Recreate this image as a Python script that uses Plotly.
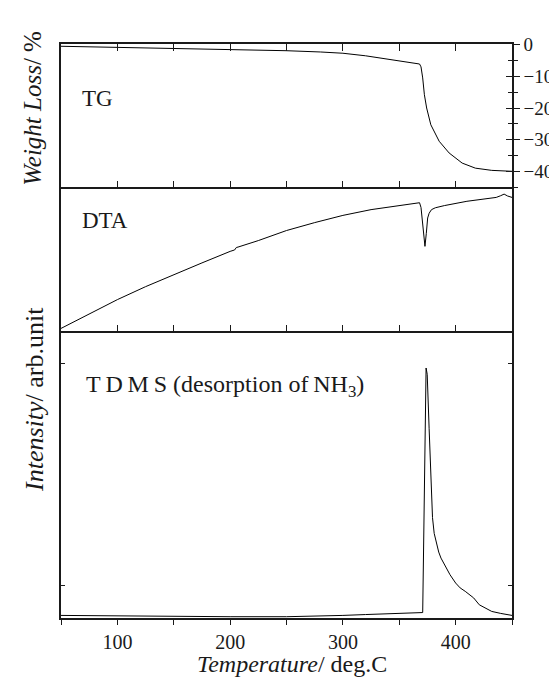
import plotly.graph_objects as go

# ---------------- data ----------------
temp_tg = [50, 100, 150, 200, 250, 280, 300, 320, 340, 355, 368, 369.3, 370.8, 372.3, 374.3, 378, 385.4, 394.2, 405.8, 417.5, 432, 450]
tg = [-0.5, -0.8, -1.1, -1.4, -1.9, -2.3, -2.7, -3.5, -4.5, -5.3, -6.1, -7.0, -10.5, -15.8, -20.0, -25.3, -30.5, -34.2, -37.4, -39.0, -39.7, -40.0]

temp_dta = [50, 75, 100, 125, 150, 175, 200, 204, 205.5, 207, 225, 250, 275, 300, 325, 350, 368, 369.3, 370.2, 371.5, 372.8,
            374, 375.2, 376.5, 378.6, 382, 390, 410, 425, 436, 440, 443, 446, 450]
dta = [2, 12, 22, 31, 39.5, 47.5, 55.5, 56.5, 58.2, 58.5, 63, 70, 75.5, 80.5, 84.5, 87.5, 89.3, 86, 78.7, 68, 59,
       68, 78.7, 82, 84.5, 85.8, 87.3, 90.3, 92, 93, 94.2, 95.3, 94, 93]

temp_ms = [50, 100, 150, 200, 250, 280, 300, 320, 345, 360, 370.8, 373.8, 374.8, 376.5, 378, 379.5, 381, 383, 385, 387, 391, 395,
           400, 404, 408.5, 416, 421, 429, 432, 440, 450]
ms = [0.9, 0.7, 0.5, 0.45, 0.45, 0.6, 0.9, 1.2, 1.5, 1.7, 1.9, 87.2, 85, 66, 47, 35, 29.5, 25.6, 23, 20.9, 17.8, 15.1,
      12.2, 10.5, 9.3, 7.0, 4.6, 2.9, 2.3, 1.6, 0.9]

x_major = [100, 200, 300, 400]
x_minor = [50, 150, 250, 350, 450]
x_all = [50, 100, 150, 200, 250, 300, 350, 400, 450]
tg_ticks = [0, -10, -20, -30, -40]
tg_labels = ["0", "\u221210", "\u221220", "\u221230", "\u221240"]
ms_ticks = [11.2, 88.9]

FONT = "Liberation Serif"
INK = "#1a1a1a"

fig = go.Figure()
line = dict(color="black", width=1)
fig.add_trace(go.Scatter(x=temp_tg, y=tg, mode="lines", line=line, xaxis="x", yaxis="y", showlegend=False))
fig.add_trace(go.Scatter(x=[None], y=[None], mode="lines", xaxis="x", yaxis="y4", showlegend=False))
fig.add_trace(go.Scatter(x=temp_dta, y=dta, mode="lines", line=line, xaxis="x2", yaxis="y2", showlegend=False))
fig.add_trace(go.Scatter(x=temp_ms, y=ms, mode="lines", line=line, xaxis="x3", yaxis="y3", showlegend=False))

axline = dict(showline=True, linecolor=INK, linewidth=1.5, showgrid=False, zeroline=False)

d_ms = [0, 0.4995]
d_dta = [0.4995, 0.7503]
d_tg = [0.7503, 1]
tg_range = [-45.06, 0.22]

fig.update_layout(
    width=557, height=677,
    margin=dict(l=53, r=46, t=36, b=67),
    paper_bgcolor="white", plot_bgcolor="white",
    font=dict(family=FONT, color=INK, size=20),
    xaxis=dict(domain=[0, 1], range=[50, 450], anchor="y", mirror="ticks", ticks="inside", ticklen=7,
               tickwidth=1.2, tickcolor=INK, tickvals=x_all, showticklabels=False, **axline),
    xaxis2=dict(domain=[0, 1], range=[50, 450], anchor="y2", mirror=False, ticks="inside", ticklen=7,
                tickwidth=1.2, tickcolor=INK, tickvals=x_all, showticklabels=False, **axline),
    xaxis3=dict(domain=[0, 1], range=[50, 450], anchor="y3", mirror=False, ticks="outside", ticklen=5,
                tickwidth=1.2, tickcolor=INK, tickvals=x_major,
                minor=dict(tickvals=x_minor, ticks="outside", ticklen=5, tickwidth=1.2, tickcolor=INK),
                tickfont=dict(family=FONT, size=20, color=INK), **axline),
    yaxis=dict(domain=d_tg, range=tg_range, anchor="x", side="right", mirror=True, ticks="outside", ticklen=6,
               tickwidth=1.2, tickcolor=INK, tickvals=tg_ticks, ticktext=tg_labels,
               tickfont=dict(family=FONT, size=19, color=INK),
               minor=dict(dtick=5, tick0=0, ticks="outside", ticklen=4, tickwidth=1.2, tickcolor=INK),
               **axline),
    yaxis4=dict(domain=d_tg, range=tg_range, anchor="x", overlaying="y", side="right", ticks="inside",
                ticklen=6, tickwidth=1.2, tickcolor=INK, tickvals=tg_ticks, showticklabels=False,
                minor=dict(dtick=5, tick0=0, ticks="inside", ticklen=4, tickwidth=1.2, tickcolor=INK),
                showline=False, showgrid=False, zeroline=False),
    yaxis2=dict(domain=d_dta, range=[0, 100], anchor="x2", mirror=True, ticks="", showticklabels=False, **axline),
    yaxis3=dict(domain=d_ms, range=[0, 100], anchor="x3", mirror="ticks", ticks="inside", ticklen=4,
                tickwidth=1, tickcolor=INK, tickvals=ms_ticks, showticklabels=False, **axline),
)

ann = []
ann.append(dict(text="TG", x=0.043, y=0.9052, xref="paper", yref="paper", xanchor="left", yanchor="middle",
                showarrow=False, font=dict(family=FONT, size=23, color=INK)))
ann.append(dict(text="DTA", x=0.043, y=0.6925, xref="paper", yref="paper", xanchor="left", yanchor="middle",
                showarrow=False, font=dict(family=FONT, size=23, color=INK)))
ann.append(dict(text="T\u2009D\u2009M\u2009S (desorption of\u2009NH<sub>3</sub>)", x=0.05, y=0.405,
                xref="paper", yref="paper", xanchor="left", yanchor="middle", showarrow=False,
                font=dict(family=FONT, size=24, color=INK)))
ann.append(dict(text="<i>Weight Loss</i>/ %", x=-0.0633, y=0.888, xref="paper", yref="paper",
                xanchor="center", yanchor="middle", textangle=-90, showarrow=False,
                font=dict(family=FONT, size=25, color=INK)))
ann.append(dict(text="<i>Intensity</i>/ arb.unit", x=-0.0574, y=0.38, xref="paper", yref="paper",
                xanchor="center", yanchor="middle", textangle=-90, showarrow=False,
                font=dict(family=FONT, size=26, color=INK)))
ann.append(dict(text="<i>Temperature</i>/ deg.C", x=0.513, y=-0.0805, xref="paper", yref="paper",
                xanchor="center", yanchor="middle", showarrow=False,
                font=dict(family=FONT, size=24, color=INK)))
fig.update_layout(annotations=ann)

fig.write_html("out.html")
